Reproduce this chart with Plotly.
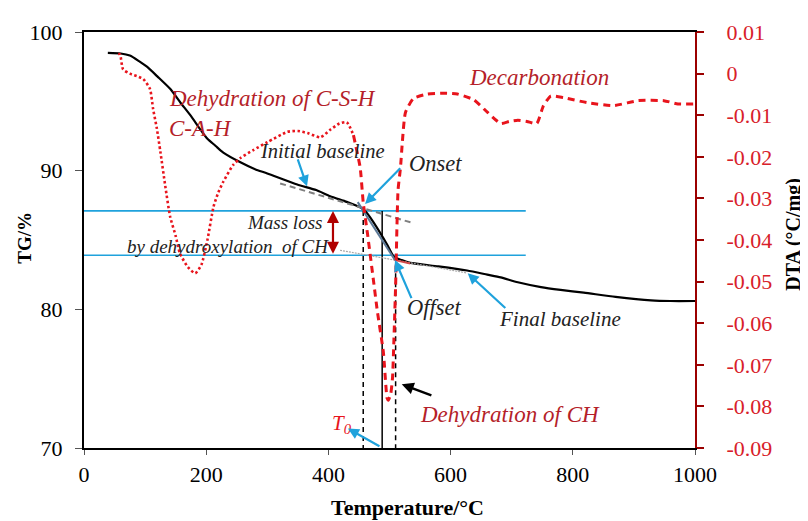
import plotly.graph_objects as go

# ---------------- data ----------------
tg_temp = [39, 60, 75, 90, 103, 120, 141, 158, 174, 190, 202, 215, 228, 256, 280, 300, 349, 380,
           403, 430, 452, 461, 472, 485, 497, 507, 520, 534, 580, 627, 660, 682, 710, 748, 780,
           818, 870, 928, 960, 1000]
tg_mass = [98.5, 98.45, 98.3, 97.9, 97.5, 96.8, 95.9, 94.9, 94.0, 93.0, 92.3, 91.8, 91.3, 90.6,
           90.1, 89.8, 89.0, 88.6, 88.15, 87.75, 87.35, 87.05, 86.4, 85.5, 84.6, 83.8, 83.55,
           83.35, 83.1, 82.8, 82.5, 82.3, 81.95, 81.6, 81.4, 81.2, 80.9, 80.65, 80.6, 80.6]

dta_temp_a = [56, 59, 64, 75, 90, 97, 108, 113, 119, 125, 133, 141, 150, 157, 170, 182, 192, 202,
              212, 220, 228, 244, 256, 277, 300, 333, 350, 366, 387, 403, 418, 430, 441]
dta_val_a = [0.0048, 0.0046, 0.001, 0.0, -0.0008, -0.0013, -0.0037, -0.0084, -0.013, -0.0188,
             -0.027, -0.0344, -0.039, -0.0432, -0.0465, -0.048, -0.046, -0.040, -0.032, -0.0285,
             -0.026, -0.022, -0.0203, -0.0184, -0.0165, -0.014, -0.0138, -0.0143, -0.0153,
             -0.0135, -0.012, -0.0117, -0.0148]
dta_temp_b = [441, 452, 457, 464, 474, 480, 490, 496, 498, 502, 505, 507, 510, 514, 518, 521, 526,
              539, 562, 590, 611, 638, 661, 682, 696, 710, 725, 741, 752, 764, 785, 824, 867, 907,
              949, 972, 998]
dta_val_b = [-0.0148, -0.0226, -0.031, -0.0385, -0.050, -0.057, -0.067, -0.078, -0.0785, -0.077,
             -0.073, -0.065, -0.051, -0.028, -0.0226, -0.0165, -0.0094, -0.006, -0.0049, -0.0047,
             -0.0049, -0.0063, -0.0094, -0.012, -0.0115, -0.0112, -0.0115, -0.012, -0.0077,
             -0.0054, -0.0058, -0.007, -0.0077, -0.0065, -0.0065, -0.0073, -0.0073]

# construction lines (temperature, TG)
mass_levels = [87.1, 83.9]
level_temp = [0, 723]
initial_base_temp = [321, 537]
initial_base_tg = [89.08, 86.24]
final_base_temp = [419, 627]
final_base_tg = [84.26, 82.62]
tangent_temp = [448, 509]
tangent_tg = [87.73, 83.55]
offset_seg_temp = [509, 534]
offset_seg_tg = [83.55, 83.3]
t_onset, t_peak, t_offset = 457, 488, 510

x_ticks = [0, 200, 400, 600, 800, 1000]
y_ticks = [70, 80, 90, 100]
y2_ticks = [0.01, 0, -0.01, -0.02, -0.03, -0.04, -0.05, -0.06, -0.07, -0.08, -0.09]
y2_labels = ["0.01", "0", "-0.01", "-0.02", "-0.03", "-0.04", "-0.05", "-0.06", "-0.07",
             "-0.08", "-0.09"]

# ---------------- styles ----------------
FONT = "Liberation Serif, Times New Roman, serif"
RED = "#e8141c"
TXT_RED = "#b51f2a"
AX_RED = "#9b0000"
BLUE = "#1fa2dc"
DARK = "#222222"

fig = go.Figure()

# blue horizontal level lines
for lv in mass_levels:
    fig.add_trace(go.Scatter(x=level_temp, y=[lv, lv], mode="lines",
                             line=dict(color=BLUE, width=1.6), hoverinfo="skip"))

# vertical lines
fig.add_trace(go.Scatter(x=[t_onset, t_onset], y=[mass_levels[0], 70], mode="lines",
                         line=dict(color="black", width=1.5, dash="5px,4px"), hoverinfo="skip"))
fig.add_trace(go.Scatter(x=[t_peak, t_peak], y=[mass_levels[0], 70], mode="lines",
                         line=dict(color="black", width=1.5), hoverinfo="skip"))
fig.add_trace(go.Scatter(x=[t_offset, t_offset], y=[mass_levels[1], 70], mode="lines",
                         line=dict(color="black", width=1.5, dash="5px,4px"), hoverinfo="skip"))

# DTA curve (right axis)
fig.add_trace(go.Scatter(x=dta_temp_a, y=dta_val_a, mode="lines", yaxis="y2",
                         line=dict(color=RED, width=2.6, dash="2.5px,2.5px", shape="spline",
                                   smoothing=0.6)))
fig.add_trace(go.Scatter(x=dta_temp_b, y=dta_val_b, mode="lines", yaxis="y2",
                         line=dict(color=RED, width=3, dash="7px,5px", shape="spline",
                                   smoothing=0.5)))

# TG curve
fig.add_trace(go.Scatter(x=tg_temp, y=tg_mass, mode="lines",
                         line=dict(color="black", width=2.2, shape="spline", smoothing=0.6)))

# baselines and tangent
fig.add_trace(go.Scatter(x=initial_base_temp, y=initial_base_tg, mode="lines",
                         line=dict(color="#7f7f7f", width=2, dash="6px,4px"), hoverinfo="skip"))
fig.add_trace(go.Scatter(x=final_base_temp, y=final_base_tg, mode="lines",
                         line=dict(color="#a8a8a8", width=1.2, dash="2px,1px"), hoverinfo="skip"))
fig.add_trace(go.Scatter(x=tangent_temp, y=tangent_tg, mode="lines",
                         line=dict(color="#5b7896", width=2), hoverinfo="skip"))
fig.add_trace(go.Scatter(x=offset_seg_temp, y=offset_seg_tg, mode="lines",
                         line=dict(color="#d24a4a", width=2), hoverinfo="skip"))

ann = []


def txt(s, x, y, color=DARK, size=21, xanchor="left"):
    ann.append(dict(text=s, x=x, y=y, xref="x", yref="y", showarrow=False, xanchor=xanchor,
                    yanchor="middle", font=dict(family=FONT, size=size, color=color)))


def arrow(x0, y0, x1, y1, color=BLUE, width=2.2, head=2, size=1.0, both=False):
    ann.append(dict(text="", x=x1, y=y1, ax=x0, ay=y0, xref="x", yref="y", axref="x",
                    ayref="y", showarrow=True, arrowhead=head, arrowsize=size,
                    arrowwidth=width, arrowcolor=color, startarrowhead=head,
                    startarrowsize=size, arrowside="end+start" if both else "end"))


txt("<i>Dehydration of C-S-H</i>", 136, 95.2, TXT_RED, 23)
txt("<i>C-A-H</i>", 136, 93.05, TXT_RED, 23)
txt("<i>Decarbonation</i>", 627, 96.74, TXT_RED, 23)
txt("<i>Initial baseline</i>", 285, 91.42, DARK, 20.5)
txt("<i>Onset</i>", 529, 90.5, DARK, 22.5)
txt("<i>Mass loss</i>", 263, 86.24, DARK, 19)
txt("<i>by dehydroxylation  of CH</i>", 67, 84.54, DARK, 19)
txt("<i>Offset</i>", 525, 80.14, DARK, 22.5)
txt("<i>Final baseline</i>", 676, 79.3, DARK, 21)
txt("<i>Dehydration of CH</i>", 547, 72.4, TXT_RED, 23)
txt("<i>T<sub>0</sub></i>", 403, 71.7, RED, 21)

arrow(349, 90.92, 365, 88.87)
arrow(520, 90.28, 460, 87.6)
arrow(537, 80.7, 509, 83.55)
arrow(692, 80.0, 628, 82.6)
arrow(486, 70.07, 432, 71.4)
arrow(571, 73.76, 520, 74.6, color="black", width=2.4)
arrow(407.5, mass_levels[1], 407.5, mass_levels[0], color="#b00000", width=2.2, size=1.1,
      both=True)

# axis titles
ann.append(dict(text="<b>Temperature/°C</b>", x=0.530, y=-0.142, xref="paper", yref="paper",
                xanchor="center", yanchor="middle", showarrow=False,
                font=dict(family=FONT, size=22, color="black")))
ann.append(dict(text="<b>TG/%</b>", x=-0.098, y=0.506, xref="paper", yref="paper",
                xanchor="center", yanchor="middle", showarrow=False, textangle=-90,
                font=dict(family=FONT, size=19, color="black")))
ann.append(dict(text="<b>DTA (°C/mg)</b>", x=1.162, y=0.515, xref="paper", yref="paper",
                xanchor="center", yanchor="middle", showarrow=False, textangle=-90,
                font=dict(family=FONT, size=20, color="black")))

fig.update_layout(
    width=800, height=513,
    margin=dict(l=76, r=113, t=17, b=73),
    paper_bgcolor="white", plot_bgcolor="white",
    showlegend=False,
    font=dict(family=FONT, size=22, color="black"),
    annotations=ann,
    xaxis=dict(range=[0, 1000], tickvals=x_ticks, showgrid=False, zeroline=False,
               showline=True, linecolor="black", linewidth=2.2, mirror=True,
               ticks="outside", ticklen=5, tickwidth=1.2, tickcolor="#555555",
               tickfont=dict(family=FONT, size=22, color="black")),
    yaxis=dict(range=[70, 100], tickvals=y_ticks, showgrid=False, zeroline=False,
               showline=True, linecolor="black", linewidth=2.2,
               ticks="outside", ticklen=7, tickwidth=1.2, tickcolor="#555555",
               ticklabelstandoff=8,
               tickfont=dict(family=FONT, size=22, color="black")),
    yaxis2=dict(range=[-0.09, 0.01], overlaying="y", side="right", tickvals=y2_ticks,
                ticktext=y2_labels, showgrid=False, zeroline=False, showline=True,
                linecolor=AX_RED, linewidth=2.2, ticks="outside", ticklen=7, tickwidth=1.5,
                tickcolor=AX_RED, ticklabelstandoff=18,
                tickfont=dict(family=FONT, size=22, color="#d8202a")),
)

fig.write_html("out.html")
